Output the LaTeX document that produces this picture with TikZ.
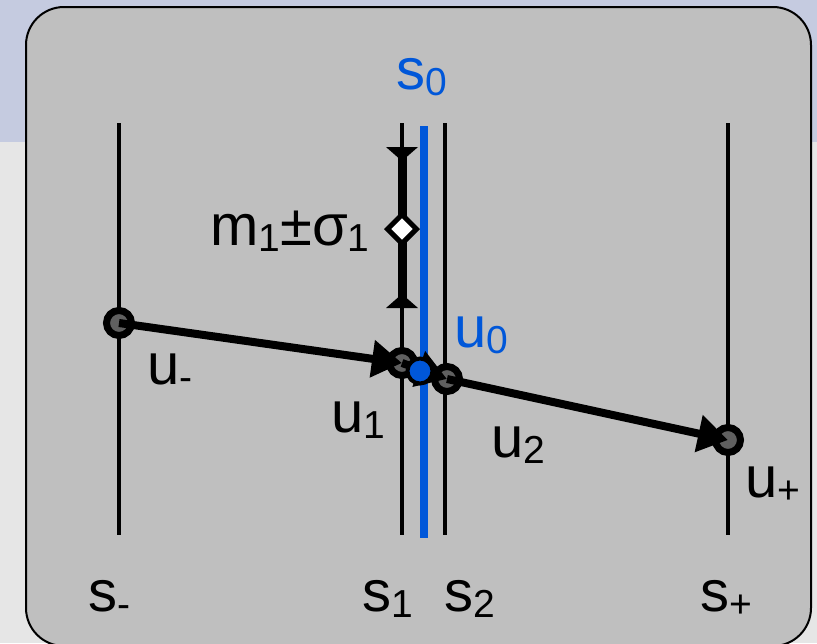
\documentclass[tikz,border=0pt]{standalone}
\usepackage{fontspec}
\setmainfont{Liberation Sans}
\usetikzlibrary{arrows.meta,shapes.geometric}
\definecolor{bandc}{RGB}{197,203,224}
\definecolor{pagec}{RGB}{230,230,230}
\definecolor{panelc}{RGB}{191,191,191}
\definecolor{ptc}{RGB}{96,96,96}
\definecolor{bluec}{RGB}{0,87,217}
\newcommand{\lbsub}[1]{\raisebox{-6pt}{\fontsize{39}{42}\selectfont #1}}
\begin{document}
\begin{tikzpicture}[x=1pt,y=-1pt,
  lbl/.style={anchor=base west,inner sep=0pt,font=\fontsize{58}{60}\selectfont},
  sline/.style={line width=4pt},
  pt/.style={circle,draw=black,line width=7pt,fill=ptc,minimum size=25pt,inner sep=0pt},
  flow/.style={line width=8pt,-{Triangle[length=30pt,width=36pt]}}]
\useasboundingbox (0,0) rectangle (817,643);
\fill[pagec] (0,0) rectangle (817,643);
\fill[bandc] (0,0) rectangle (817,142);
\begin{scope}
\clip (0,0) rectangle (817,643);
\draw[line width=2pt, fill=panelc, rounded corners=38pt] (26,7) rectangle (811,646);
\end{scope}
% vertical lines
\foreach \n/\x in {m/119,a/402,b/445,p/728}{
  \coordinate (t\n) at (\x,123);
  \coordinate (b\n) at (\x,535);
  \draw[sline] (t\n) -- (b\n);
}
% error bar
\coordinate (ebt) at (402,147);
\coordinate (ebb) at (402,308);
\draw[line width=9pt] (ebt) -- (ebb);
\fill (ebt) ++(-16,0) -- ++(32,0) -- ++(-16,14) -- cycle;
\fill (ebb) ++(-16,0) -- ++(32,0) -- ++(-16,-14) -- cycle;
\node[diamond,draw=black,line width=5pt,fill=white,minimum width=31pt,minimum height=31pt,inner sep=0pt] (dm) at (402,229) {};
% blue line
\coordinate (s0t) at (424,126);
\coordinate (s0b) at (424,538);
\draw[line width=8pt,bluec] (s0t) -- (s0b);
% points
\node[pt] (um) at (119,323) {};
\node[pt] (u1) at (402,363) {};
\node[pt] (u2) at (447,379) {};
\node[pt] (up) at (728,440) {};
\draw[flow] (um.center) -- (u1.center);
\draw[flow] (u1.center) -- (u2.center);
\draw[flow] (u2.center) -- (up.center);
\node[circle,draw=black,line width=4pt,fill=bluec,minimum size=25pt,inner sep=0pt] (u0) at (420,371) {};
% labels
\node[lbl,text=bluec] (ls0) at (396,89) {s\lbsub{0}};
\node[lbl] (lms) at (210,245) {m\lbsub{1}±σ\lbsub{1}};
\node[lbl,text=bluec] (lu0) at (454,347) {u\lbsub{0}};
\node[lbl] (lum) at (147,384) {u\lbsub{-}};
\node[lbl] (lu1) at (331,432) {u\lbsub{1}};
\node[lbl] (lu2) at (491,457) {u\lbsub{2}};
\node[lbl] (lup) at (745,497) {u\lbsub{+}};
\node[lbl] (lsm) at (88,611) {s\lbsub{-}};
\node[lbl] (ls1) at (362,611) {s\lbsub{1}};
\node[lbl] (ls2) at (444,611) {s\lbsub{2}};
\node[lbl] (lsp) at (700,611) {s\lbsub{+}};
\end{tikzpicture}
\end{document}
